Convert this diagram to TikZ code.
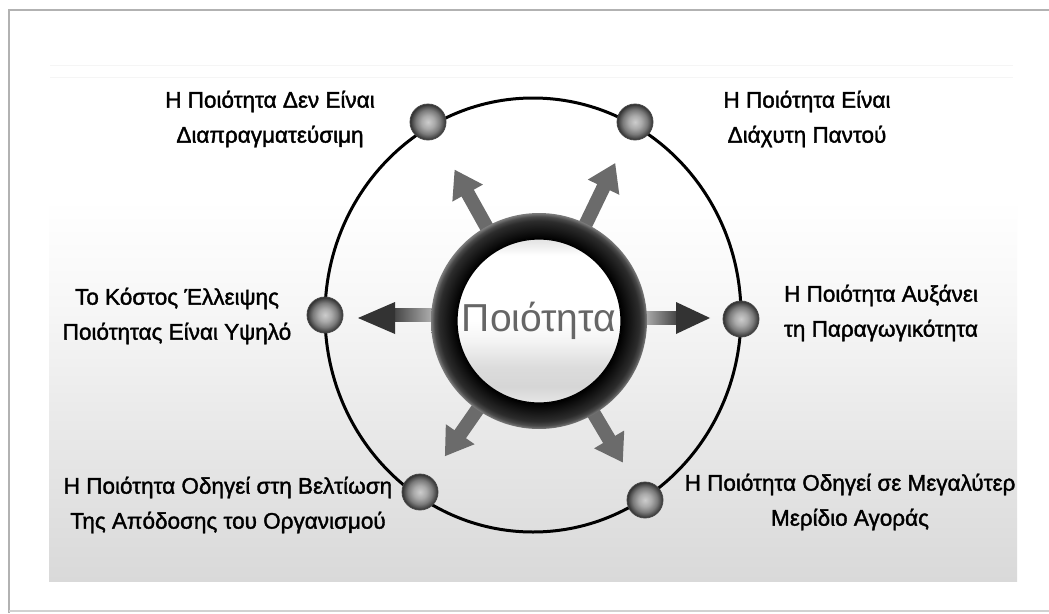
\documentclass[tikz,border=0pt]{standalone}
\usepackage{fontspec}
\setmainfont{Liberation Sans}
\newfontfamily\lblfont[FakeBold=1.6]{Liberation Sans}
\usetikzlibrary{arrows.meta,calc}
\definecolor{pD9}{HTML}{D9D9D9}
\definecolor{pEB}{HTML}{EBEBEB}
\definecolor{pF7}{HTML}{F7F7F7}
\definecolor{r2}{HTML}{1A1A1A}
\definecolor{r3}{HTML}{2C2C2C}
\definecolor{r35}{HTML}{4A4A4A}
\definecolor{r4}{HTML}{7E7E7E}
\definecolor{d1}{HTML}{E6E6E6}
\definecolor{d2}{HTML}{D6D6D6}
\definecolor{d25}{HTML}{DCDCDC}
\definecolor{d3}{HTML}{F4F4F4}
\definecolor{d4}{HTML}{E2E2E2}
\pgfdeclareverticalshading{panelsh}{100bp}{color(0bp)=(pD9); color(25bp)=(pD9); color(42bp)=(pEB); color(52bp)=(pF7); color(62bp)=(white); color(100bp)=(white)}
\pgfdeclareradialshading{ringsh}{\pgfpoint{0bp}{0bp}}{color(0bp)=(black); color(19bp)=(black); color(21.5bp)=(r2); color(23.2bp)=(r3); color(24.2bp)=(r35); color(25bp)=(r4); color(50bp)=(r4)}
\pgfdeclareverticalshading{discsh}{100bp}{color(0bp)=(d1); color(25bp)=(d1); color(30bp)=(d2); color(36bp)=(d25); color(44bp)=(d3); color(50bp)=(white); color(70bp)=(white); color(75bp)=(d4); color(100bp)=(d4)}
\pgfdeclareradialshading{ballsh}{\pgfpoint{0bp}{0bp}}{color(0bp)=(black!20); color(9bp)=(black!33); color(17bp)=(black!52); color(22bp)=(black!70); color(25bp)=(black!82); color(50bp)=(black!82)}
\tikzset{
  lbl/.style={font=\lblfont\fontsize{22.5pt}{35pt}\selectfont, align=center, text=black, inner sep=0pt},
  ballnode/.style={circle, minimum size=36pt, inner sep=0pt, shade, shading=ballsh, draw=black!72, line width=0.8pt},
  darrow/.style={draw=black!58, line width=14pt, -{Triangle[width=33pt, length=27pt]}},
  headfill/.style={fill=black!80},
}
\begin{document}
\begin{tikzpicture}[x=1pt,y=-1pt]
\useasboundingbox (0,0) rectangle (1049,613);
\fill[white] (0,0) rectangle (1049,613);
% panel
\shade[shading=panelsh] (49,65) rectangle (1017,581);
\draw[black!4, line width=1pt] (50,65) -- (1013,65);
\draw[black!4, line width=1pt] (50,77) -- (1013,77);
% frame
\draw[black!30, line width=2pt] (1049,10) -- (9,10) -- (9,613);
\draw[black!18, line width=1.5pt] (9,611) -- (1049,611);
% outer ellipse
\draw[black, line width=3pt] (533,315) ellipse [x radius=208, y radius=217];
% balls
\node[ballnode] (b1) at (428,122) {};
\node[ballnode] (b2) at (635,122) {};
\node[ballnode] (b3) at (325,315) {};
\node[ballnode] (b4) at (741,319) {};
\node[ballnode] (b5) at (420,492) {};
\node[ballnode] (b6) at (645,500) {};
% centre
\coordinate (cc) at (539,321);
\draw[darrow, shorten <=90pt, shorten >=36pt] (cc) -- (b1);
\draw[darrow, shorten <=90pt, shorten >=27pt] (cc) -- (b2);
\draw[darrow, shorten <=90pt, shorten >=25pt] (cc) -- (b5);
\draw[darrow, shorten <=90pt, shorten >=25pt] (cc) -- (b6);
% horizontal arrows
\shade[left color=black!75, right color=black!12] ($(b3)+(67,-6.5)$) rectangle ($(b3)+(125,6.5)$);
\fill[headfill] ($(b3)+(33,3)$) -- ($(b3)+(70,-13)$) -- ($(b3)+(70,19)$) -- cycle;
\shade[left color=black!12, right color=black!75] ($(b4)+(-111,-7.5)$) rectangle ($(b4)+(-63,5.5)$);
\fill[headfill] ($(b4)+(-31,-1)$) -- ($(b4)+(-65,-17)$) -- ($(b4)+(-65,15)$) -- cycle;
% ring and disc
\shade[shading=ringsh] (cc) circle [radius=108pt];
\shade[shading=discsh] (cc) circle [radius=82pt];
\draw[black, line width=1.2pt] (cc) circle [radius=82pt];
\node[font=\fontsize{39pt}{40pt}\selectfont, text=black!60, inner sep=0pt] (c) at (cc) {Ποιότητα};
% labels
\node[lbl] (t1) at (270,119) {Η Ποιότητα Δεν Είναι\\Διαπραγματεύσιμη};
\node[lbl] (t2) at (807,119) {Η Ποιότητα Είναι\\Διάχυτη Παντού};
\node[lbl] (t3) at (177,316) {Το Κόστος Έλλειψης\\Ποιότητας Είναι Υψηλό};
\node[lbl] (t4) at (881,313) {Η Ποιότητα Αυξάνει\\τη Παραγωγικότητα};
\node[lbl] (t5) at (228,505) {Η Ποιότητα Οδηγεί στη Βελτίωση\\Της Απόδοσης του Οργανισμού};
\node[lbl] (t6) at (850,502) {Η Ποιότητα Οδηγεί σε Μεγαλύτερ\\Μερίδιο Αγοράς};
\end{tikzpicture}
\end{document}
